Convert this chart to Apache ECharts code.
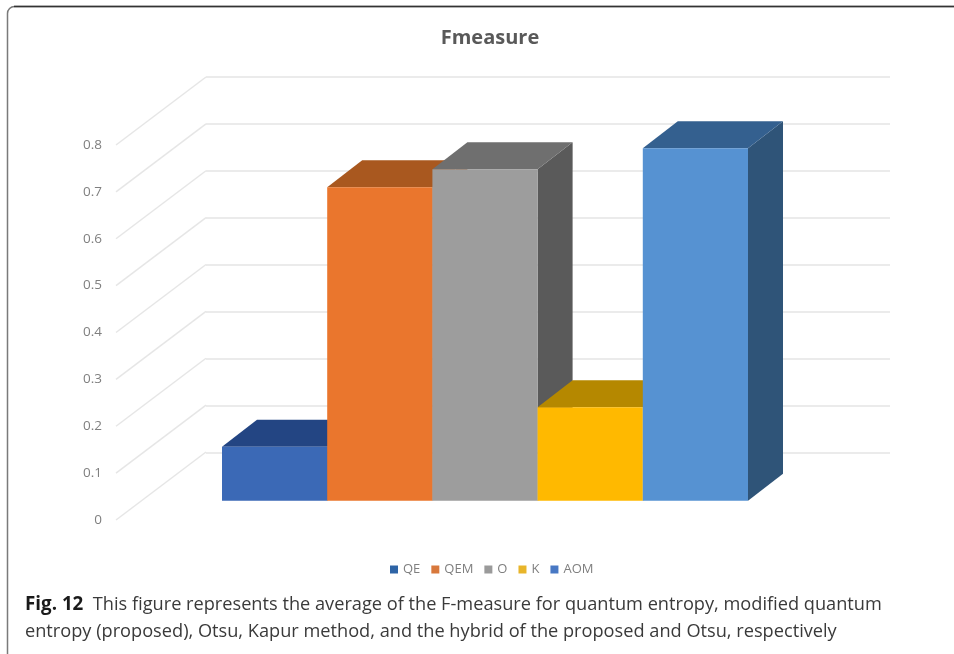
<!DOCTYPE html>
<html>
<head>
<meta charset="utf-8">
<style>html,body{margin:0;padding:0;background:#fff}#chart{width:954px;height:654px}</style>
<script src="https://cdn.jsdelivr.net/npm/echarts@6/dist/echarts.min.js"></script>
</head>
<body>
<div id="chart"></div>
<script>
// Average F-measure per segmentation method
const methods = ['QE', 'QEM', 'O', 'K', 'AOM'];
const fmeasure = [0.115, 0.667, 0.705, 0.199, 0.75];
const yTicks = [0, 0.1, 0.2, 0.3, 0.4, 0.5, 0.6, 0.7, 0.8];
const chartTitle = 'Fmeasure';
const captionLead = 'Fig. 12';
const captionLines = [
  'This figure represents the average of the F-measure for quantum entropy, modified quantum',
  'entropy (proposed), Otsu, Kapur method, and the hybrid of the proposed and Otsu, respectively'
];

// Face shades of each 3D column: front, top, side
const frontColors = ['#3b69b6', '#ea762d', '#9d9d9d', '#ffb900', '#5692d2'];
const topColors = ['#234583', '#a9581f', '#6f6f6f', '#b58800', '#34608f'];
const sideColors = ['#234583', '#a9581f', '#5a5a5a', '#b58800', '#2f5478'];
const legendColors = ['#2e64a6', '#d8783c', '#9a9a9a', '#e8b52a', '#4878c4'];

// Oblique projection offsets for the column depth and for the chart's side wall
const columnDepth = { dx: 35, dy: -27 };
const wallDepth = { dx: 90, dy: -68 };

const chart = echarts.init(document.getElementById('chart'), null, { renderer: 'canvas' });

function renderColumn(i) {
  return function (params, api) {
    const top = api.coord([api.value(0), api.value(1)]);
    const base = api.coord([api.value(0), 0]);
    const w = api.size([1, 0])[0];
    const l = top[0] - w / 2, r = top[0] + w / 2;
    const t = top[1], b = base[1];
    const dx = columnDepth.dx, dy = columnDepth.dy;
    return {
      type: 'group',
      children: [
        { type: 'polygon', shape: { points: [[r, t], [r + dx, t + dy], [r + dx, b + dy], [r, b]] }, style: { fill: sideColors[i] } },
        { type: 'polygon', shape: { points: [[l, t], [l + dx, t + dy], [r + dx, t + dy], [r, t]] }, style: { fill: topColors[i] } },
        { type: 'rect', shape: { x: l, y: t, width: w, height: b - t }, style: { fill: frontColors[i] } }
      ]
    };
  };
}

// Floor-to-back-wall diagonals that continue each gridline toward the front
function renderWallLine(params, api) {
  const p = api.coord([0, api.value(1)]);
  return {
    type: 'line',
    shape: { x1: p[0], y1: p[1], x2: p[0] + wallDepth.dx, y2: p[1] + wallDepth.dy },
    style: { stroke: '#e6e6e6', lineWidth: 1.5 }
  };
}

const columnSeries = methods.map((name, i) => ({
  name: name,
  type: 'custom',
  xAxisIndex: 2,
  yAxisIndex: 2,
  z: 5 + i,
  silent: true,
  itemStyle: { color: frontColors[i] },
  encode: { x: 0, y: 1 },
  data: [[i, fmeasure[i]]],
  renderItem: renderColumn(i)
}));

chart.setOption({
  animation: false,
  backgroundColor: '#ffffff',
  title: [
    {
      text: chartTitle,
      left: 485, top: 23, textAlign: 'center',
      textStyle: { fontFamily: 'Open Sans', fontSize: 20, fontWeight: 'bold', color: '#595959' }
    },
    {
      text: '{lead|' + captionLead + '}  ' + captionLines[0] + '\n' + captionLines[1],
      left: 20, top: 586,
      textStyle: {
        fontFamily: 'Open Sans', fontSize: 18.2, fontWeight: 'normal', color: '#3a3a3a', lineHeight: 27,
        rich: { lead: { fontFamily: 'Open Sans', fontSize: 18.8, fontWeight: 'bold', color: '#1a1a1a', lineHeight: 27 } }
      }
    }
  ],
  legend: {
    left: 385, top: 558,
    itemWidth: 8, itemHeight: 8, itemGap: 11,
    textStyle: { fontFamily: 'Open Sans', fontSize: 13, color: '#7f7f7f' },
    data: methods.map((name, i) => ({ name: name, icon: 'rect', itemStyle: { color: legendColors[i] } })),
    selectedMode: false
  },
  grid: [
    { left: 116, top: 145, width: 90, height: 375 },  // front edge of the side wall
    { left: 206, top: 77, width: 684, height: 376 },  // back wall
    { left: 222, top: 124.7, width: 526, height: 376 } // plane of the column fronts
  ],
  xAxis: [
    { gridIndex: 0, type: 'value', min: 0, max: 1, show: false },
    { gridIndex: 1, type: 'value', min: 0, max: 1, show: false },
    { gridIndex: 2, type: 'category', data: methods, show: false }
  ],
  yAxis: [
    {
      gridIndex: 0, type: 'value', min: 0, max: 0.8, interval: 0.1,
      axisLine: { show: false }, axisTick: { show: false }, splitLine: { show: false },
      axisLabel: {
        margin: 14,
        fontFamily: 'Open Sans', fontSize: 13.5, color: '#7f7f7f',
        formatter: v => String(Math.round(v * 10) / 10)
      }
    },
    {
      gridIndex: 1, type: 'value', min: 0, max: 0.8, interval: 0.1,
      axisLine: { show: false }, axisTick: { show: false }, axisLabel: { show: false },
      splitLine: { show: true, lineStyle: { color: '#e4e4e4', width: 1.5 } }
    },
    { gridIndex: 2, type: 'value', min: 0, max: 0.8, interval: 0.1, show: false }
  ],
  series: [
    {
      type: 'custom',
      xAxisIndex: 0,
      yAxisIndex: 0,
      z: 1,
      silent: true,
      encode: { x: 0, y: 1 },
      data: yTicks.map(v => [0, v]),
      renderItem: renderWallLine
    }
  ].concat(columnSeries),
  graphic: [
    { type: 'rect', z: 0, shape: { x: 7.5, y: 6.5, width: 1000, height: 700, r: [7, 0, 0, 0] }, style: { fill: 'none', stroke: '#7a7a7a', lineWidth: 1.5 } },
    { type: 'line', z: 0, shape: { x1: 14, y1: 6.5, x2: 954, y2: 6.5 }, style: { stroke: '#333333', lineWidth: 1.5 } }
  ]
});
</script>
</body>
</html>
